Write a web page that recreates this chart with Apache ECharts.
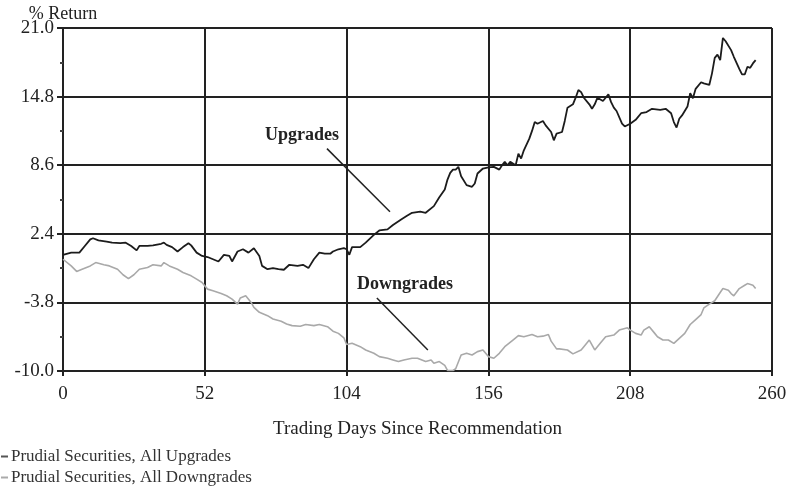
<!DOCTYPE html>
<html>
<head>
<meta charset="utf-8">
<script src="https://cdn.jsdelivr.net/npm/echarts@6/dist/echarts.min.js"></script>
<style>
  html, body { margin: 0; padding: 0; background: #fff; }
  #chart { width: 791px; height: 491px; }
</style>
</head>
<body>
<div id="chart"></div>
<script>
// trading days vs % return
var upDays = [0, 3, 6, 8, 10, 11, 13, 16, 18, 21, 23, 25, 27, 28, 31, 33, 36, 37, 38, 40,
  42, 44, 46, 47, 49, 51, 53, 55, 57, 59, 61, 62, 64, 66, 68, 70, 72, 73, 75, 77,
  79, 81, 83, 86, 88, 90, 92, 94, 96, 98, 99, 101, 103, 104, 105, 106, 109, 111, 114, 116,
  119, 121, 124, 126, 128, 131, 133, 136, 138, 140, 141, 142, 143, 144, 145, 146, 148, 150, 151, 152,
  154, 156, 158, 160, 161, 162, 163, 164, 166, 167, 168, 169, 171, 172, 173, 174, 176, 177, 179, 180,
  181, 183, 184, 185, 187, 188, 189, 190, 191, 193, 194, 195, 196, 198, 199, 200, 201, 202, 203, 205,
  206, 208, 210, 212, 214, 216, 219, 221, 223, 224, 225, 226, 227, 229, 230, 231, 232, 234, 235, 237,
  238, 239, 240, 241, 242, 243, 245, 246, 248, 249, 250, 251, 252, 253, 254];
var upVals = [0.5, 0.7, 0.7, 1.3, 1.9, 2.0, 1.8, 1.7, 1.6, 1.55, 1.6, 1.3, 0.9, 1.3, 1.3, 1.35, 1.5, 1.6, 1.4, 1.2,
  0.8, 1.2, 1.55, 1.35, 0.7, 0.4, 0.3, 0.1, -0.1, 0.5, 0.4, -0.1, 0.8, 1.0, 0.7, 1.1, 0.4, -0.5, -0.8, -0.7,
  -0.8, -0.85, -0.4, -0.5, -0.4, -0.7, 0.1, 0.7, 0.6, 0.6, 0.8, 1.0, 1.1, 1.0, 0.5, 1.2, 1.2, 1.6, 2.3, 2.7,
  2.8, 3.2, 3.7, 4.0, 4.3, 4.4, 4.3, 4.9, 5.7, 6.4, 7.3, 7.9, 8.2, 8.2, 8.45, 7.6, 6.8, 6.65, 6.95, 7.85,
  8.3, 8.4, 8.45, 8.2, 8.6, 8.9, 8.6, 8.9, 8.6, 9.65, 9.2, 9.95, 11.0, 11.7, 12.5, 12.35, 12.6, 12.2, 11.6, 10.85,
  11.45, 11.6, 12.6, 13.8, 14.1, 14.7, 15.4, 15.2, 14.7, 14.1, 13.7, 14.1, 14.7, 14.4, 14.7, 15.0, 14.3, 13.8, 13.5, 12.35,
  12.1, 12.35, 12.7, 13.3, 13.4, 13.7, 13.6, 13.7, 13.3, 12.5, 12.0, 12.8, 13.1, 13.9, 15.1, 14.65, 15.5, 16.1, 16.0, 15.85,
  16.9, 18.3, 18.6, 18.1, 20.1, 19.8, 19.0, 18.4, 17.3, 16.8, 16.8, 17.5, 17.4, 17.8, 18.1];

var downDays = [0, 3, 5, 7, 10, 12, 15, 17, 20, 22, 24, 26, 28, 31, 33, 36, 37, 39, 42, 44,
  47, 49, 51, 53, 55, 58, 60, 62, 64, 65, 67, 69, 70, 72, 75, 77, 80, 82, 84, 87,
  89, 92, 94, 97, 99, 101, 103, 104, 106, 109, 111, 114, 116, 119, 121, 123, 125, 128, 130, 133,
  135, 136, 138, 140, 141, 143, 144, 146, 148, 150, 152, 154, 155, 156, 158, 160, 162, 165, 167, 169,
  172, 174, 176, 178, 179, 181, 182, 185, 187, 190, 191, 193, 195, 197, 199, 202, 204, 207, 208, 210,
  212, 213, 215, 217, 218, 220, 222, 224, 226, 228, 230, 232, 234, 235, 237, 239, 241, 242, 244, 245,
  246, 248, 250, 251, 253, 254];
var downVals = [0.1, -0.5, -1.0, -0.8, -0.5, -0.2, -0.4, -0.5, -0.8, -1.3, -1.65, -1.3, -0.8, -0.65, -0.4, -0.5, -0.2, -0.5, -0.8, -1.1,
  -1.4, -1.7, -2.0, -2.6, -2.75, -3.0, -3.2, -3.5, -3.95, -3.4, -3.2, -3.8, -4.25, -4.7, -5.0, -5.3, -5.5, -5.75, -5.9, -5.95,
  -5.8, -5.9, -5.8, -6.0, -6.4, -6.6, -7.0, -7.6, -7.5, -7.8, -8.1, -8.4, -8.7, -8.85, -9.0, -9.15, -9.0, -8.85, -8.85, -9.15,
  -9.0, -9.3, -9.15, -9.5, -9.95, -9.95, -9.8, -8.55, -8.4, -8.55, -8.25, -8.1, -8.4, -8.7, -8.85, -8.4, -7.8, -7.2, -6.8, -6.9,
  -6.7, -6.9, -6.85, -6.7, -7.3, -8.0, -8.0, -8.1, -8.45, -8.1, -7.8, -7.2, -8.1, -7.5, -6.9, -6.75, -6.3, -6.1, -6.3, -6.6,
  -6.75, -6.3, -6.0, -6.6, -6.9, -7.2, -7.2, -7.5, -7.05, -6.6, -5.8, -5.35, -4.9, -4.3, -3.95, -3.65, -2.9, -2.55, -2.7, -3.0,
  -3.2, -2.55, -2.25, -2.1, -2.25, -2.55];

var xTicks = [0, 52, 104, 156, 208, 260];
var yTicks = [-10.0, -3.8, 2.4, 8.6, 14.8, 21.0];

function pairs(xs, ys) {
  var out = [];
  for (var i = 0; i < xs.length; i++) out.push([xs[i], ys[i]]);
  return out;
}

var serif = 'Liberation Serif';
var ink = '#222';

var chart = echarts.init(document.getElementById('chart'));

chart.setOption({
  animation: false,
  backgroundColor: '#fff',
  textStyle: { fontFamily: serif, color: ink },
  grid: { left: 63, right: 19, top: 28, bottom: 120 },
  legend: {
    orient: 'vertical',
    left: 1,
    top: 448,
    padding: 0,
    itemGap: 4,
    itemWidth: 7,
    itemHeight: 2,
    icon: 'rect',
    textStyle: { fontFamily: serif, fontSize: 17, color: '#333', padding: [0, 0, 0, -2] },
    data: ['Prudial Securities, All Upgrades', 'Prudial Securities, All Downgrades']
  },
  xAxis: {
    type: 'value',
    min: xTicks[0],
    max: xTicks[xTicks.length - 1],
    interval: 52,
    name: 'Trading Days Since Recommendation',
    nameLocation: 'middle',
    nameGap: 49,
    nameTextStyle: { fontFamily: serif, fontSize: 19, color: ink },
    axisLine: { show: true, onZero: false, lineStyle: { color: ink, width: 2 } },
    axisTick: { show: true, length: 5, lineStyle: { color: ink, width: 2 } },
    axisLabel: { margin: 14, fontFamily: serif, fontSize: 19, color: ink },
    splitLine: { show: true, lineStyle: { color: ink, width: 2 } }
  },
  yAxis: {
    type: 'value',
    min: yTicks[0],
    max: yTicks[yTicks.length - 1],
    interval: 6.2,
    name: '% Return',
    nameGap: 5,
    nameMoveOverlap: false,
    nameTextStyle: { fontFamily: serif, fontSize: 18, color: ink },
    axisLine: { show: true, onZero: false, lineStyle: { color: ink, width: 2 } },
    axisTick: { show: true, length: 6, lineStyle: { color: ink, width: 2 } },
    minorTick: { show: true, splitNumber: 2, length: 3, lineStyle: { color: '#444', width: 2 } },
    axisLabel: {
      margin: 9, fontFamily: serif, fontSize: 19, color: ink,
      formatter: function (v) { return v.toFixed(1); }
    },
    splitLine: { show: true, lineStyle: { color: ink, width: 2 } }
  },
  series: [
    {
      name: 'Prudial Securities, All Upgrades',
      type: 'line',
      data: pairs(upDays, upVals),
      showSymbol: false,
      color: '#555',
      lineStyle: { width: 1.8, color: '#1c1c1c' },
      markLine: {
        silent: true,
        symbol: 'none',
        label: { show: false },
        lineStyle: { color: ink, width: 1.5, type: 'solid' },
        data: [[{ coord: [96.8, 10.1] }, { coord: [119.9, 4.4] }]]
      },
      markPoint: {
        symbolSize: 0,
        label: { show: true, fontFamily: serif, fontSize: 18, fontWeight: 'bold', color: ink, formatter: 'Upgrades' },
        data: [{ coord: [87.6, 11.3] }]
      }
    },
    {
      name: 'Prudial Securities, All Downgrades',
      type: 'line',
      data: pairs(downDays, downVals),
      showSymbol: false,
      color: '#aaa',
      lineStyle: { width: 1.6, color: '#a9a9a9' },
      markLine: {
        silent: true,
        symbol: 'none',
        label: { show: false },
        lineStyle: { color: ink, width: 1.5, type: 'solid' },
        data: [[{ coord: [115.1, -3.4] }, { coord: [133.8, -8.1] }]]
      },
      markPoint: {
        symbolSize: 0,
        label: { show: true, fontFamily: serif, fontSize: 18, fontWeight: 'bold', color: ink, formatter: 'Downgrades' },
        data: [{ coord: [125.4, -2.2] }]
      }
    }
  ]
});
</script>
</body>
</html>
